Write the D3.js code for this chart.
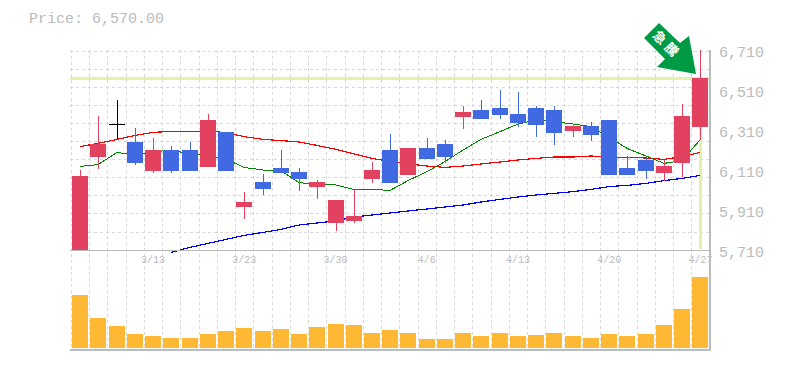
<!DOCTYPE html>
<html>
<head>
<meta charset="utf-8">
<script src="https://cdnjs.cloudflare.com/ajax/libs/d3/7.8.5/d3.min.js"></script>
<style>
  html, body { margin: 0; padding: 0; background: #fff; }
  svg { display: block; }
  text { font-family: "Liberation Mono", monospace; fill: #bbb; }
</style>
</head>
<body>
<div id="chart"></div>
<script>
const dates = ["3/9","3/10","3/11","3/12","3/13","3/16","3/17","3/18","3/19","3/23","3/24","3/25","3/26","3/27","3/30","3/31","4/1","4/2","4/3","4/6","4/7","4/8","4/9","4/10","4/13","4/14","4/15","4/16","4/17","4/20","4/21","4/22","4/23","4/24","4/27"]
const dateTicks = ["3/13","3/23","3/30","4/6","4/13","4/20","4/27"]
const priceTicks = [5710,5910,6110,6310,6510,6710]

const opens  = [5705,6175,6338,6250,6105,6210,6210,6125,6300,5925,6050,6120,6100,6025,5845,5855,6065,6210,6085,6220,6240,6375,6410,6420,6390,6420,6410,6305,6330,6360,6120,6160,6095,6145,6325]
const highs  = [6110,6380,6460,6320,6270,6230,6250,6390,6300,6000,6090,6210,6120,6060,5960,6015,6150,6290,6220,6270,6260,6430,6460,6510,6500,6430,6430,6340,6350,6360,6180,6170,6160,6440,6710]
const lows   = [5705,6115,6267,6135,6095,6095,6105,6125,6105,5865,5985,6095,6005,5965,5805,5845,6045,6045,6085,6165,6145,6315,6365,6365,6325,6275,6235,6275,6255,6085,6085,6065,6055,6075,6260]
const closes = [6080,6240,6338,6145,6210,6105,6105,6360,6105,5950,6015,6095,6065,6050,5960,5880,6110,6045,6220,6165,6175,6400,6365,6385,6345,6335,6295,6330,6285,6085,6085,6105,6130,6380,6570]

const maShort = [6128,6137,6198,6183,6203,6207,6193,6180,6165,6123,6110,6107,6047,6038,6035,6013,6013,6008,6057,6102,6152,6210,6263,6302,6340,6360,6352,6340,6327,6275,6218,6180,6143,6157,6260]
const maMid   = [6227,6243,6263,6283,6298,6303,6303,6305,6297,6277,6263,6257,6250,6233,6213,6190,6168,6153,6140,6130,6123,6130,6140,6150,6160,6168,6175,6175,6180,6175,6173,6170,6163,6177,6198]
const maLong  = [null,null,null,null,null,5698,5723,5743,5763,5783,5798,5813,5835,5845,5855,5875,5885,5895,5905,5915,5925,5935,5950,5963,5975,5985,5993,6002,6013,6027,6033,6043,6057,6068,6083]

const volumes = [53,30,22,14,12,10,10,14,17,20,17,19,14,21,24,23,15,18,15,9,9,15,12,15,12,13,15,12,10,14,12,14,23,39,71]

const lastPrice = 6570
const arrowLabel = "急騰"

const width = 785
const height = 370

const svg = d3.select("#chart").append("svg")
  .attr("width", width)
  .attr("height", height)

const x = d3.scaleBand().domain(dates).range([71, 709.5]).paddingInner(0.12).paddingOuter(0.06)
const y = d3.scaleLinear().domain([5710, 6710]).range([250, 50])
const yVol = d3.scaleLinear().domain([0, 100]).range([348, 248])
const cx = d => Math.round(x(d) + x.bandwidth() / 2)
const bodyW = 16

// grid
const grid = svg.append("g").attr("stroke", "#d8d8d8").attr("stroke-dasharray", "3,3").attr("shape-rendering", "crispEdges")
dates.forEach(d => {
  const gx = Math.round(x(d) + x.bandwidth() / 2 - x.step() / 2)
  grid.append("line").attr("x1", gx + 0.5).attr("x2", gx + 0.5).attr("y1", 50).attr("y2", 350)
})
d3.range(12).forEach(i => {
  const gy = Math.round(50.5 + i * 18.1)
  grid.append("line").attr("x1", 70).attr("x2", 710).attr("y1", gy + 0.5).attr("y2", gy + 0.5)
})

// last price marker
const marker = svg.append("g").attr("stroke", "#e2f2a6").attr("stroke-width", 3).attr("shape-rendering", "crispEdges")
marker.append("line").attr("x1", 70).attr("x2", 710).attr("y1", y(lastPrice)).attr("y2", y(lastPrice))
marker.append("line").attr("x1", cx(dates[34])).attr("x2", cx(dates[34])).attr("y1", y(lastPrice)).attr("y2", 249)

// moving averages
const line = d3.line()
  .defined(d => d[1] != null)
  .x(d => cx(d[0]))
  .y(d => y(d[1]))
const drawMa = (vals, color, w) => {
  svg.append("path")
    .attr("d", line(dates.map((d, i) => [d, vals[i]])))
    .attr("fill", "none")
    .attr("stroke", color)
    .attr("stroke-width", w)
    .attr("shape-rendering", "crispEdges")
}
drawMa(maMid, "#f00", 1.2)
drawMa(maShort, "#080", 1)
drawMa(maLong, "#00f", 1.2)

// candles
const candleColor = i => closes[i] > opens[i] ? "#e2425f" : closes[i] < opens[i] ? "#4169e1" : "#000"
const candles = svg.append("g").attr("shape-rendering", "crispEdges")
dates.forEach((d, i) => {
  const c = cx(d)
  const top = y(Math.max(opens[i], closes[i]))
  const bot = y(Math.min(opens[i], closes[i]))
  candles.append("line").attr("x1", c).attr("x2", c).attr("y1", y(highs[i])).attr("y2", y(lows[i]))
    .attr("stroke", candleColor(i)).attr("stroke-width", 1)
  if (top == bot) {
    candles.append("line").attr("x1", c - bodyW / 2).attr("x2", c + bodyW / 2).attr("y1", top).attr("y2", top)
      .attr("stroke", "#000").attr("stroke-width", 1)
  } else {
    candles.append("rect").attr("x", c - bodyW / 2).attr("width", bodyW).attr("y", top).attr("height", bot - top)
      .attr("fill", candleColor(i))
  }
})

// volume
svg.append("g").attr("shape-rendering", "crispEdges").selectAll("rect").data(dates).enter().append("rect")
  .attr("x", d => cx(d) - bodyW / 2)
  .attr("width", bodyW)
  .attr("y", (d, i) => yVol(volumes[i]))
  .attr("height", (d, i) => yVol(0) - yVol(volumes[i]))
  .attr("fill", "#ffb833")

// frame lines
const frame = svg.append("g").attr("stroke", "#bbb").attr("shape-rendering", "crispEdges")
frame.append("line").attr("x1", 70).attr("x2", 710).attr("y1", 250.5).attr("y2", 250.5)
frame.append("line").attr("x1", 70).attr("x2", 711).attr("y1", 350).attr("y2", 350).attr("stroke-width", 2)
frame.append("line").attr("x1", 710).attr("x2", 710).attr("y1", 50).attr("y2", 350).attr("stroke-width", 2)

// axes
const yAxis = svg.append("g").attr("transform", "translate(710,0)")
  .call(d3.axisRight(y).tickValues(priceTicks).tickSize(0).tickPadding(9).tickFormat(d3.format(",")))
yAxis.select(".domain").remove()
yAxis.selectAll("text").attr("font-size", 15).style("font-family", '"Liberation Mono", monospace').attr("dy", "0.45em")

const xAxis = svg.append("g").attr("transform", "translate(0,250)")
  .call(d3.axisBottom(x).tickValues(dateTicks).tickSize(0).tickPadding(6))
xAxis.select(".domain").remove()
xAxis.selectAll("text").attr("font-size", 10).style("font-family", '"Liberation Mono", monospace')

// price title
svg.append("text").attr("x", 29).attr("y", 23).attr("font-size", 15)
  .text("Price: " + d3.format(",.2f")(lastPrice))

// arrow badge
svg.append("polygon")
  .attr("points", "659,23 644,38 665,59 657,67 696,74 689,36 680,43")
  .attr("fill", "#009944")
svg.append("text").attr("transform", "translate(667,45) rotate(45)")
  .attr("text-anchor", "middle")
  .attr("font-size", 13)
  .attr("font-weight", "bold")
  .attr("letter-spacing", 4)
  .style("font-family", '"Noto Sans CJK JP"')
  .style("fill", "#fff")
  .attr("dy", "0.35em")
  .text(arrowLabel)
</script>
</body>
</html>
